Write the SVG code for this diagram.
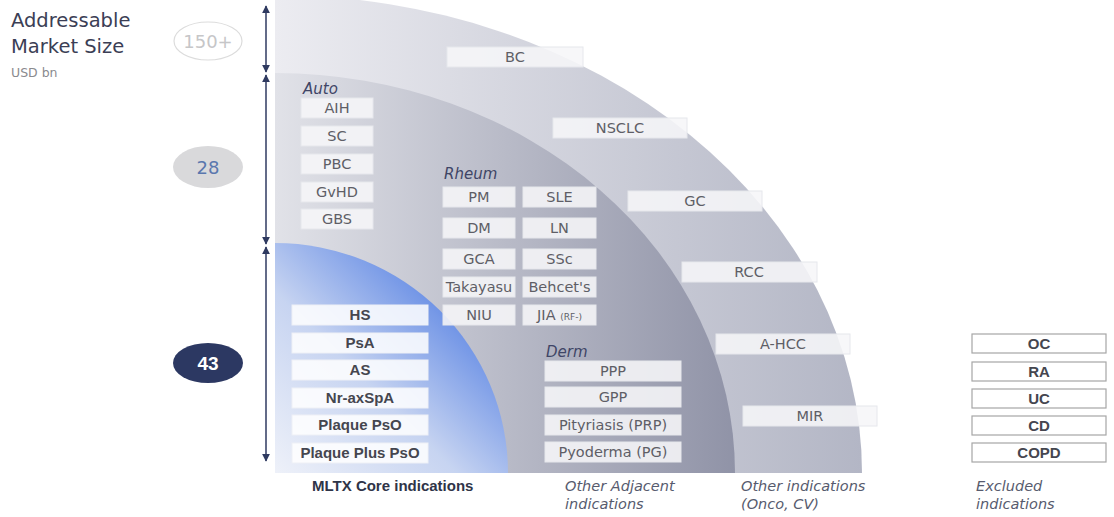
<svg xmlns="http://www.w3.org/2000/svg" width="1114" height="517" viewBox="0 0 1114 517">
<style>
.bx{fill:#f6f6f8;fill-opacity:.88;stroke:#e6e7ec;stroke-width:1}
.cb{fill:#ffffff;fill-opacity:.85;stroke:#eef0f6;stroke-width:1}
.xb{fill:#ffffff;stroke:#a6a6a6;stroke-width:1.2}
.t{font-family:"DejaVu Sans",sans-serif;font-size:14.5px;fill:#5e5e66;text-anchor:middle}
.b{font-family:"Liberation Sans",Arial,sans-serif;font-weight:bold;font-size:15px;fill:#45464f;text-anchor:middle}
.cat{font-family:"DejaVu Sans",sans-serif;font-style:italic;font-size:15px;fill:#3f4566}
.lab{font-family:"DejaVu Sans",sans-serif;font-style:italic;font-size:14.5px;fill:#575b6e}
.arr{stroke:#2f3a60;stroke-width:1.5;fill:none;marker-start:url(#ah);marker-end:url(#ah)}
</style>
<defs>
<marker id="ah" viewBox="0 0 10 10" refX="9" refY="5" markerWidth="8" markerHeight="9" markerUnits="userSpaceOnUse" orient="auto-start-reverse"><path d="M0,0 L10,5 L0,10 z" fill="#2f3a60"/></marker>
<linearGradient id="gOuter" gradientUnits="userSpaceOnUse" x1="275" y1="0" x2="862" y2="0"><stop offset="0" stop-color="#ececf1"/><stop offset="1" stop-color="#b3b6c5"/></linearGradient>
<linearGradient id="gMid" gradientUnits="userSpaceOnUse" x1="275" y1="0" x2="735" y2="0"><stop offset="0" stop-color="#e1e2e8"/><stop offset="1" stop-color="#9093a7"/></linearGradient>
<linearGradient id="gIn" gradientUnits="userSpaceOnUse" x1="275" y1="473" x2="440" y2="308"><stop offset="0" stop-color="#eef1f9"/><stop offset="0.55" stop-color="#c7d4f1"/><stop offset="1" stop-color="#7094e6"/></linearGradient>
</defs>
<rect width="1114" height="517" fill="#ffffff"/>

<g id="regions">
<path d="M275,473 L275,-5 A587,478 0 0 1 862,473 Z" fill="url(#gOuter)"/>
<path d="M275,473 L275,73 A460,400 0 0 1 735,473 Z" fill="url(#gMid)"/>
<path d="M275,473 L275,243 A233,230 0 0 1 508,473 Z" fill="url(#gIn)"/>
</g>

<g id="title">
<text x="11" y="27" font-family="DejaVu Sans,sans-serif" font-size="19.5" fill="#3b3e55">Addressable</text>
<text x="11" y="53" font-family="DejaVu Sans,sans-serif" font-size="19.5" fill="#3b3e55">Market Size</text>
<text x="11" y="77" font-family="DejaVu Sans,sans-serif" font-size="12.5" fill="#8a8a8e">USD bn</text>
</g>

<g id="size-150">
<ellipse cx="208" cy="41" rx="34" ry="19" fill="#ffffff" stroke="#dcdcdc" stroke-width="1.2"/>
<text x="208" y="47.5" text-anchor="middle" font-family="DejaVu Sans,sans-serif" font-size="18" fill="#c6c6c8">150+</text>
</g>
<g id="size-28">
<ellipse cx="208" cy="167" rx="35" ry="21" fill="#d9d9db"/>
<text x="208" y="173.5" text-anchor="middle" font-family="DejaVu Sans,sans-serif" font-size="18" fill="#5a77ae">28</text>
</g>
<g id="size-43">
<ellipse cx="208" cy="363" rx="35" ry="20" fill="#2c3862"/>
<text x="208" y="369.5" text-anchor="middle" font-family="Liberation Sans,Arial,sans-serif" font-weight="bold" font-size="19" fill="#ffffff">43</text>
</g>

<g id="connectors">
<line class="arr" x1="266" y1="6" x2="266" y2="72"/>
<line class="arr" x1="266" y1="75" x2="266" y2="244"/>
<line class="arr" x1="266" y1="247" x2="266" y2="461"/>
</g>

<g id="onco">
<rect class="bx" x="447" y="47" width="136" height="20"/><text class="t" x="515" y="62">BC</text>
<rect class="bx" x="553" y="118" width="134" height="20"/><text class="t" x="620" y="133">NSCLC</text>
<rect class="bx" x="628" y="191" width="134" height="20"/><text class="t" x="695" y="206">GC</text>
<rect class="bx" x="682" y="262" width="135" height="20"/><text class="t" x="749" y="277">RCC</text>
<rect class="bx" x="716" y="334" width="134" height="20"/><text class="t" x="783" y="349">A-HCC</text>
<rect class="bx" x="743" y="406" width="134" height="20"/><text class="t" x="810" y="421">MIR</text>
</g>

<g id="auto">
<text class="cat" x="303" y="94">Auto</text>
<rect class="bx" x="301" y="98" width="72" height="20"/><text class="t" x="337" y="113">AIH</text>
<rect class="bx" x="301" y="126" width="72" height="20"/><text class="t" x="337" y="141">SC</text>
<rect class="bx" x="301" y="154" width="72" height="20"/><text class="t" x="337" y="169">PBC</text>
<rect class="bx" x="301" y="182" width="72" height="20"/><text class="t" x="337" y="197">GvHD</text>
<rect class="bx" x="301" y="209" width="72" height="20"/><text class="t" x="337" y="224">GBS</text>
</g>

<g id="rheum">
<text class="cat" x="444" y="179">Rheum</text>
<rect class="bx" x="443" y="187" width="72" height="20"/><text class="t" x="479" y="202">PM</text>
<rect class="bx" x="523" y="187" width="73" height="20"/><text class="t" x="559.5" y="202">SLE</text>
<rect class="bx" x="443" y="218" width="72" height="20"/><text class="t" x="479" y="233">DM</text>
<rect class="bx" x="523" y="218" width="73" height="20"/><text class="t" x="559.5" y="233">LN</text>
<rect class="bx" x="443" y="249" width="72" height="20"/><text class="t" x="479" y="264">GCA</text>
<rect class="bx" x="523" y="249" width="73" height="20"/><text class="t" x="559.5" y="264">SSc</text>
<rect class="bx" x="443" y="277" width="72" height="20"/><text class="t" x="479" y="292">Takayasu</text>
<rect class="bx" x="523" y="277" width="73" height="20"/><text class="t" x="559.5" y="292">Behcet's</text>
<rect class="bx" x="443" y="305" width="72" height="20"/><text class="t" x="479" y="320">NIU</text>
<rect class="bx" x="523" y="305" width="73" height="20"/><text class="t" x="559.5" y="320">JIA <tspan font-size="9">(RF-)</tspan></text>
</g>

<g id="core">
<rect class="cb" x="292" y="305" width="136" height="20"/><text class="b" x="360" y="320">HS</text>
<rect class="cb" x="292" y="333" width="136" height="20"/><text class="b" x="360" y="348">PsA</text>
<rect class="cb" x="292" y="360" width="136" height="20"/><text class="b" x="360" y="375">AS</text>
<rect class="cb" x="292" y="388" width="136" height="20"/><text class="b" x="360" y="403">Nr-axSpA</text>
<rect class="cb" x="292" y="415" width="136" height="20"/><text class="b" x="360" y="430">Plaque PsO</text>
<rect class="cb" x="292" y="443" width="136" height="20"/><text class="b" x="360" y="458">Plaque Plus PsO</text>
</g>

<g id="derm">
<text class="cat" x="546" y="357">Derm</text>
<rect class="bx" x="545" y="361" width="136" height="20"/><text class="t" x="613" y="376">PPP</text>
<rect class="bx" x="545" y="387" width="136" height="20"/><text class="t" x="613" y="402">GPP</text>
<rect class="bx" x="545" y="415" width="136" height="20"/><text class="t" x="613" y="430">Pityriasis (PRP)</text>
<rect class="bx" x="545" y="442" width="136" height="20"/><text class="t" x="613" y="457">Pyoderma (PG)</text>
</g>

<g id="excluded">
<rect class="xb" x="972" y="334" width="134" height="19"/><text class="b" x="1039" y="348.5">OC</text>
<rect class="xb" x="972" y="362" width="134" height="19"/><text class="b" x="1039" y="376.5">RA</text>
<rect class="xb" x="972" y="389" width="134" height="19"/><text class="b" x="1039" y="403.5">UC</text>
<rect class="xb" x="972" y="416" width="134" height="19"/><text class="b" x="1039" y="430.5">CD</text>
<rect class="xb" x="972" y="443" width="134" height="19"/><text class="b" x="1039" y="457.5">COPD</text>
</g>

<g id="legend">
<text x="312" y="491" font-family="Liberation Sans,Arial,sans-serif" font-weight="bold" font-size="15" fill="#2f3448">MLTX Core indications</text>
<text class="lab" x="565" y="491">Other Adjacent</text>
<text class="lab" x="565" y="509">indications</text>
<text class="lab" x="741" y="491">Other indications</text>
<text class="lab" x="741" y="509">(Onco, CV)</text>
<text class="lab" x="976" y="491">Excluded</text>
<text class="lab" x="976" y="509">indications</text>
</g>
</svg>
